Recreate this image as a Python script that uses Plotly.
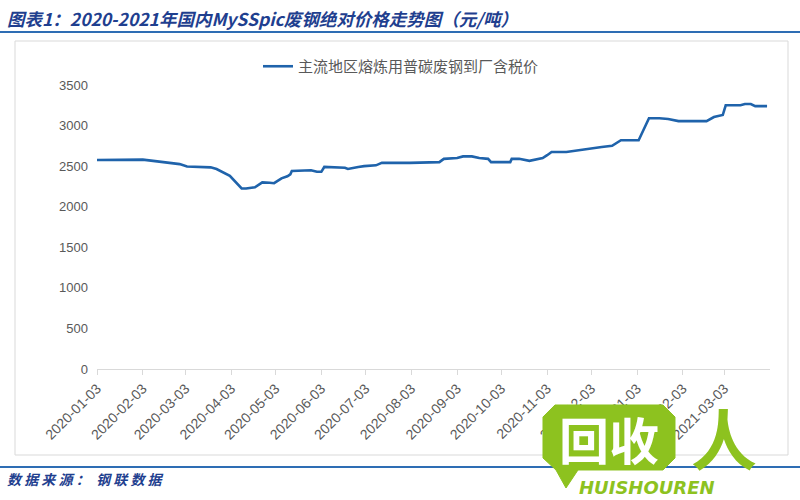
import plotly.graph_objects as go

# ---------------- data ----------------
dates = [
    "2020-01-03", "2020-02-03", "2020-02-10", "2020-02-20", "2020-02-28",
    "2020-03-04", "2020-03-20", "2020-03-24", "2020-03-30", "2020-04-02",
    "2020-04-10", "2020-04-13", "2020-04-19", "2020-04-24", "2020-04-29",
    "2020-05-02", "2020-05-07", "2020-05-11", "2020-05-13", "2020-05-14",
    "2020-05-27", "2020-05-31", "2020-06-03", "2020-06-05", "2020-06-19",
    "2020-06-21", "2020-06-28", "2020-07-02", "2020-07-10", "2020-07-14",
    "2020-08-02", "2020-08-22", "2020-08-25", "2020-09-03", "2020-09-07",
    "2020-09-13", "2020-09-18", "2020-09-24", "2020-09-26", "2020-10-09",
    "2020-10-10", "2020-10-15", "2020-10-22", "2020-10-31", "2020-11-03",
    "2020-11-06", "2020-11-16", "2020-11-25", "2020-12-10", "2020-12-17",
    "2020-12-23", "2021-01-04", "2021-01-11", "2021-01-18", "2021-01-24",
    "2021-01-31", "2021-02-19", "2021-02-24", "2021-03-02", "2021-03-04",
    "2021-03-14", "2021-03-17", "2021-03-21", "2021-03-24", "2021-04-01",
]
prices = [
    2575, 2580, 2565, 2545, 2525,
    2495, 2485, 2465, 2415, 2380,
    2225, 2225, 2240, 2300, 2295,
    2290, 2350, 2375, 2400, 2440,
    2450, 2430, 2430, 2490, 2480,
    2465, 2490, 2500, 2510, 2540,
    2540, 2550, 2590, 2600, 2620,
    2620, 2600, 2590, 2550, 2550,
    2590, 2590, 2565, 2600, 2635,
    2675, 2675, 2700, 2735, 2750,
    2820, 2820, 3090, 3090, 3080,
    3055, 3055, 3105, 3130, 3250,
    3250, 3265, 3265, 3240, 3240,
]
series_name = "主流地区熔炼用普碳废钢到厂含税价"
tick_dates = [
    "2020-01-03", "2020-02-03", "2020-03-03", "2020-04-03", "2020-05-03",
    "2020-06-03", "2020-07-03", "2020-08-03", "2020-09-03", "2020-10-03",
    "2020-11-03", "2020-12-03", "2021-01-03", "2021-02-03", "2021-03-03",
]
y_ticks = [0, 500, 1000, 1500, 2000, 2500, 3000, 3500]

title_text = "图表1：2020-2021年国内MySSpic废钢绝对价格走势图（元/吨）"
source_text = "数 据 来 源 ：  钢 联 数 据"

# ---------------- layout helpers ----------------
W, H = 800, 500
L, R, T, B = 97, 30, 85, 131
PW, PH = W - L - R, H - T - B


def px(x):
    return (x - L) / PW


def py(y):
    return (H - B - y) / PH


BLUE_DARK = "#1f3f8f"
RULE = "#2e6db4"
GREEN = "#8dc21f"
GRAY_TXT = "#595959"

fig = go.Figure()
fig.add_trace(go.Scatter(
    x=dates, y=prices, mode="lines", name=series_name,
    line=dict(color="#1f63ab", width=2.6),
))

shapes = [
    # chart frame
    dict(type="rect", xref="paper", yref="paper", x0=px(15), x1=px(788),
         y0=py(455), y1=py(41), line=dict(color="#d9d9d9", width=1), layer="below"),
    # header / footer rules
    dict(type="line", xref="paper", yref="paper", x0=px(0), x1=px(800),
         y0=py(32), y1=py(32), line=dict(color=RULE, width=2)),
    dict(type="line", xref="paper", yref="paper", x0=px(0), x1=px(800),
         y0=py(467), y1=py(467), line=dict(color=RULE, width=2)),
]

# watermark bubble
bubble_pts = [(555, 405), (663, 405), (675, 417), (675, 458), (663, 470),
              (578, 470), (566, 488), (556, 470), (543, 458), (543, 417)]
path = "M " + " L ".join(f"{px(a):.5f},{py(b):.5f}" for a, b in bubble_pts) + " Z"
shapes.append(dict(type="path", xref="paper", yref="paper", path=path,
                   fillcolor=GREEN, line=dict(color=GREEN, width=1)))

annotations = [
    dict(text=title_text, x=px(5), y=py(18), xref="paper", yref="paper",
         xanchor="left", yanchor="middle", showarrow=False,
         font=dict(family="Noto Sans CJK SC", size=17.5, color=BLUE_DARK,
                   weight="bold", style="italic")),
    dict(text=source_text, x=px(5), y=py(479), xref="paper", yref="paper",
         xanchor="left", yanchor="middle", showarrow=False,
         font=dict(family="Noto Sans CJK SC", size=14, color=BLUE_DARK,
                   weight="bold", style="italic")),
    dict(text="回收", x=px(609), y=py(438), xref="paper", yref="paper",
         xanchor="center", yanchor="middle", showarrow=False,
         font=dict(family="Noto Sans CJK SC", size=50, color="white", weight="bold")),
    dict(text="人", x=px(724), y=py(436), xref="paper", yref="paper",
         xanchor="center", yanchor="middle", showarrow=False,
         font=dict(family="Noto Sans CJK SC", size=66, color=GREEN, weight="bold")),
    dict(text="HUISHOUREN", x=px(647), y=py(487), xref="paper", yref="paper",
         xanchor="center", yanchor="middle", showarrow=False,
         font=dict(family="DejaVu Sans", size=18, color=GREEN,
                   weight="bold", style="italic")),
]

fig.update_layout(
    width=W, height=H,
    margin=dict(l=L, r=R, t=T, b=B, pad=0),
    paper_bgcolor="white", plot_bgcolor="white",
    font=dict(family="Liberation Sans, Noto Sans CJK SC", color=GRAY_TXT),
    showlegend=True,
    legend=dict(orientation="h", x=px(258), y=py(50), xanchor="left", yanchor="top",
                font=dict(family="Noto Sans CJK SC", size=15, color=GRAY_TXT),
                bgcolor="rgba(0,0,0,0)"),
    xaxis=dict(
        type="date", range=["2020-01-03", "2021-04-03"],
        tickvals=tick_dates, ticktext=tick_dates, tickangle=-45,
        showgrid=False, zeroline=False, showline=True, linecolor="#d9d9d9",
        ticks="outside", ticklen=5, tickcolor="#d9d9d9",
        tickfont=dict(size=14, color=GRAY_TXT, family="Liberation Sans"),
    ),
    yaxis=dict(
        range=[0, 3500], tickvals=y_ticks, showgrid=False, zeroline=False,
        showline=False, ticks="", ticklabelstandoff=8,
        tickfont=dict(size=13, color=GRAY_TXT, family="Liberation Sans"),
    ),
    shapes=shapes, annotations=annotations,
)

fig.write_html("out.html", config={"displayModeBar": False},
               post_script="document.body.style.margin='0';")
